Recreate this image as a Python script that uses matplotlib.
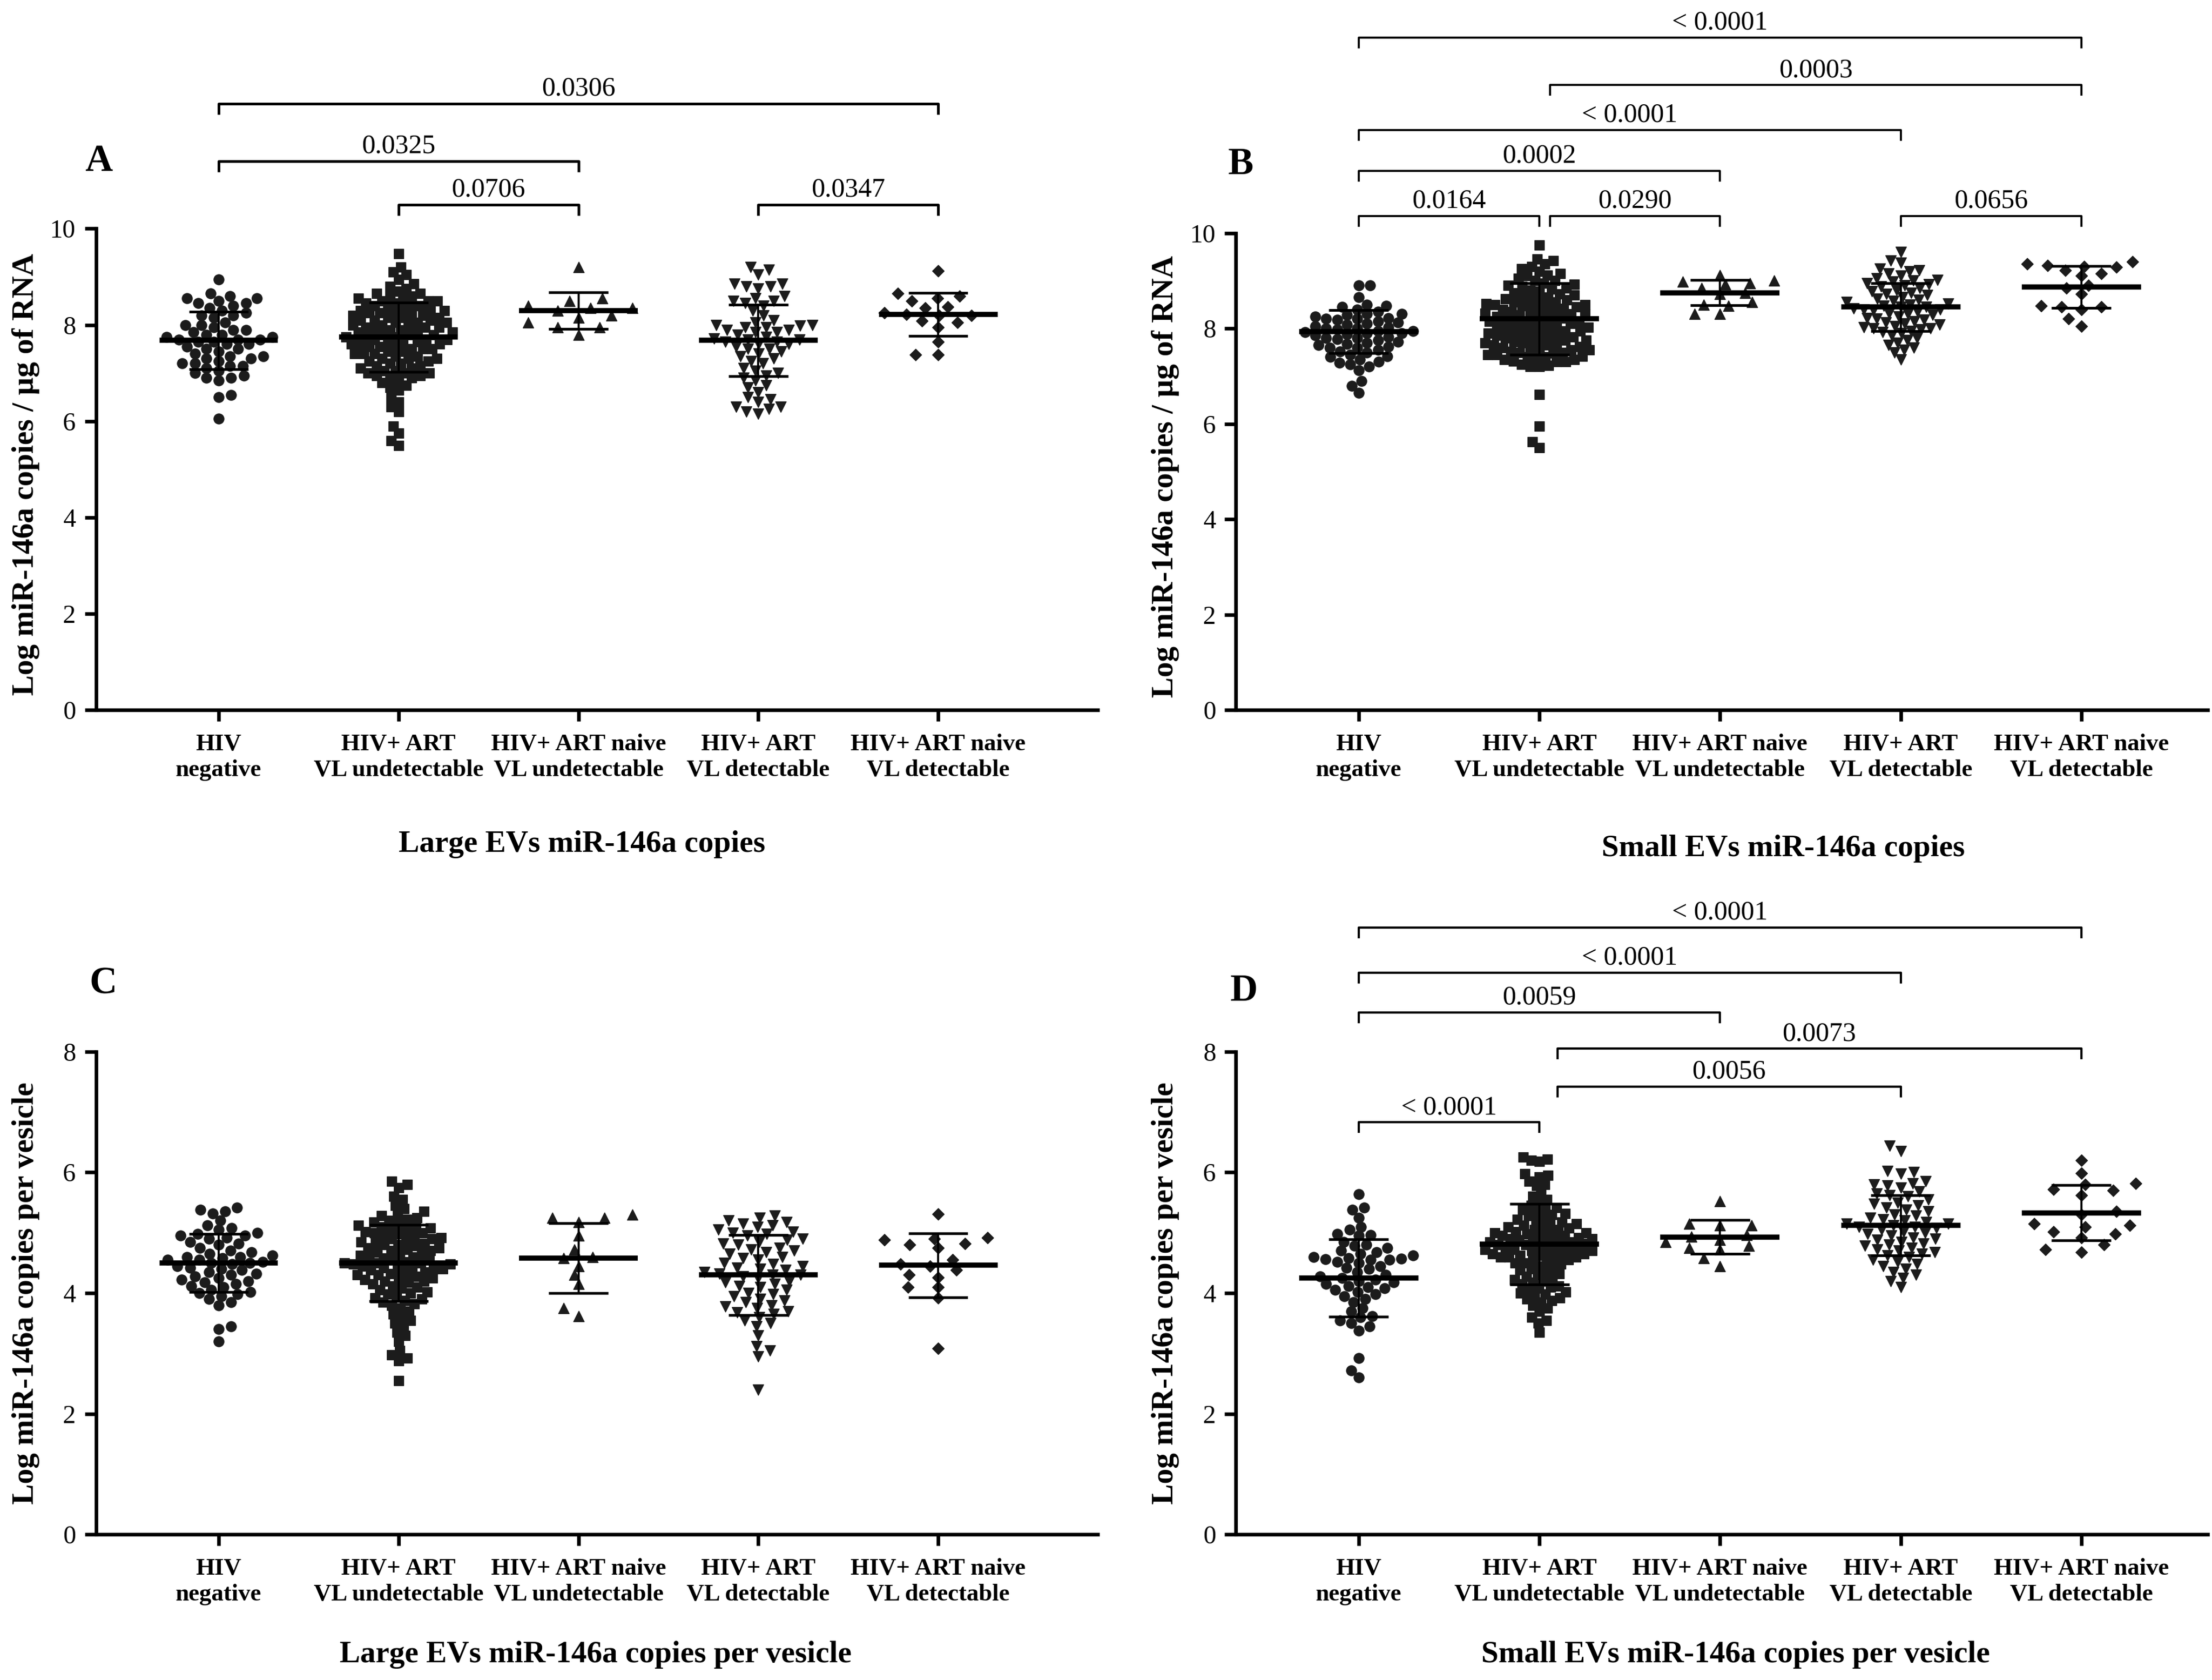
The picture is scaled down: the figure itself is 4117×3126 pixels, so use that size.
import matplotlib
matplotlib.use('Agg')
import matplotlib.pyplot as plt
import numpy as np

plt.rcParams['font.family'] = ['Liberation Serif', 'DejaVu Serif']

# category labels (same in all four panels)
groups = ["HIV\nnegative", "HIV+ ART\nVL undetectable", "HIV+ ART naive\nVL undetectable",
          "HIV+ ART\nVL detectable", "HIV+ ART naive\nVL detectable"]
markers = ['o', 's', '^', 'v', 'D']
marker_sizes = [4.6, 4.3, 5.0, 5.0, 3.8]

# ---- panel A: large EVs, copies / ug RNA
A_neg = [8.95, 8.65, 8.6, 8.55, 8.55, 8.5, 8.45, 8.45, 8.4, 8.35, 8.3, 8.25, 8.2, 8.2, 8.15, 8.05, 8.0,
         8.0, 7.95, 7.9, 7.9, 7.85, 7.8, 7.8, 7.75, 7.75, 7.7, 7.7, 7.7, 7.65, 7.65, 7.6, 7.6, 7.55, 7.5,
         7.5, 7.45, 7.4, 7.35, 7.35, 7.3, 7.3, 7.25, 7.2, 7.2, 7.15, 7.15, 7.1, 7.05, 7.0, 6.95, 6.9,
         6.9, 6.85, 6.55, 6.5, 6.05]
A_art = [9.48, 9.2, 9.1, 9.05, 8.95, 8.85, 8.8, 8.75, 8.7, 8.65, 8.65, 8.6, 8.6, 8.55, 8.55, 8.5, 8.5,
         8.5, 8.45, 8.45, 8.4, 8.4, 8.4, 8.35, 8.35, 8.3, 8.3, 8.3, 8.25, 8.25, 8.25, 8.2, 8.2, 8.2,
         8.15, 8.15, 8.15, 8.1, 8.1, 8.1, 8.05, 8.05, 8.05, 8.0, 8.0, 8.0, 7.95, 7.95, 7.95, 7.9, 7.9,
         7.9, 7.85, 7.85, 7.85, 7.8, 7.8, 7.8, 7.75, 7.75, 7.75, 7.7, 7.7, 7.7, 7.65, 7.65, 7.65, 7.6,
         7.6, 7.6, 7.55, 7.55, 7.55, 7.5, 7.5, 7.5, 7.45, 7.45, 7.4, 7.4, 7.4, 7.35, 7.35, 7.3, 7.3,
         7.3, 7.25, 7.25, 7.2, 7.2, 7.15, 7.15, 7.1, 7.1, 7.05, 7.05, 7.0, 7.0, 7.0, 6.95, 6.95, 6.9,
         6.9, 6.85, 6.8, 6.75, 6.7, 6.65, 6.5, 6.4, 6.3, 6.2, 5.9, 5.75, 5.6, 5.5]
A_nu = [9.2, 8.55, 8.5, 8.4, 8.35, 8.35, 8.3, 8.2, 8.15, 8.05, 7.95, 7.95, 7.8]
A_det = [9.2, 9.15, 9.05, 8.85, 8.85, 8.8, 8.8, 8.75, 8.6, 8.55, 8.5, 8.5, 8.45, 8.4, 8.3, 8.2, 8.1,
         8.05, 8.0, 8.0, 7.98, 7.95, 7.95, 7.9, 7.9, 7.85, 7.85, 7.8, 7.75, 7.72, 7.7, 7.7, 7.65, 7.65,
         7.6, 7.6, 7.55, 7.5, 7.5, 7.45, 7.4, 7.35, 7.3, 7.25, 7.2, 7.1, 7.05, 7.0, 6.95, 6.9, 6.85,
         6.75, 6.7, 6.6, 6.5, 6.45, 6.4, 6.3, 6.3, 6.25, 6.2, 6.15]
A_nd = [9.12, 8.65, 8.6, 8.55, 8.5, 8.38, 8.35, 8.25, 8.22, 8.2, 8.2, 8.08, 8.05, 7.95, 7.65, 7.38, 7.38]
A_mean = [7.68, 7.75, 8.3, 7.68, 8.22]
A_sd = [0.6, 0.72, 0.38, 0.74, 0.45]

# ---- panel B: small EVs, copies / ug RNA
B_neg = [8.9, 8.9, 8.65, 8.5, 8.48, 8.45, 8.4, 8.35, 8.3, 8.3, 8.28, 8.25, 8.22, 8.2, 8.2, 8.18, 8.15,
         8.12, 8.1, 8.08, 8.05, 8.02, 8.0, 8.0, 7.98, 7.95, 7.95, 7.92, 7.9, 7.9, 7.88, 7.85, 7.82, 7.8,
         7.8, 7.78, 7.75, 7.72, 7.7, 7.68, 7.65, 7.62, 7.6, 7.6, 7.55, 7.52, 7.5, 7.45, 7.42, 7.4, 7.35,
         7.3, 7.28, 7.25, 7.2, 7.12, 6.9, 6.8, 6.65]
B_art = [9.75, 9.45, 9.42, 9.35, 9.3, 9.25, 9.2, 9.15, 9.12, 9.1, 9.05, 9.0, 9.0, 8.95, 8.92, 8.9, 8.88,
         8.85, 8.82, 8.8, 8.78, 8.75, 8.72, 8.7, 8.68, 8.65, 8.62, 8.6, 8.6, 8.58, 8.55, 8.55, 8.52, 8.5,
         8.5, 8.48, 8.45, 8.45, 8.42, 8.4, 8.4, 8.38, 8.35, 8.35, 8.32, 8.3, 8.3, 8.28, 8.25, 8.25, 8.22,
         8.2, 8.2, 8.18, 8.15, 8.15, 8.12, 8.1, 8.1, 8.08, 8.05, 8.05, 8.02, 8.0, 8.0, 7.98, 7.95, 7.95,
         7.92, 7.9, 7.9, 7.88, 7.85, 7.85, 7.82, 7.8, 7.8, 7.78, 7.75, 7.75, 7.72, 7.7, 7.7, 7.68, 7.65,
         7.65, 7.62, 7.6, 7.6, 7.58, 7.55, 7.55, 7.52, 7.5, 7.5, 7.48, 7.45, 7.45, 7.42, 7.4, 7.4, 7.38,
         7.35, 7.35, 7.32, 7.3, 7.3, 7.25, 7.22, 7.2, 7.2, 6.62, 5.95, 5.62, 5.5]
B_nu = [9.12, 9.0, 8.98, 8.95, 8.92, 8.85, 8.75, 8.72, 8.55, 8.5, 8.48, 8.3, 8.3]
B_det = [9.6, 9.42, 9.38, 9.25, 9.22, 9.2, 9.15, 9.1, 9.05, 9.02, 9.0, 8.98, 8.95, 8.92, 8.9, 8.88,
         8.85, 8.8, 8.78, 8.75, 8.72, 8.7, 8.65, 8.62, 8.6, 8.58, 8.55, 8.52, 8.5, 8.48, 8.45, 8.45,
         8.42, 8.4, 8.4, 8.38, 8.35, 8.32, 8.3, 8.28, 8.25, 8.22, 8.2, 8.18, 8.15, 8.12, 8.1, 8.08, 8.05,
         8.02, 8.0, 8.0, 7.98, 7.95, 7.92, 7.9, 7.85, 7.8, 7.75, 7.7, 7.65, 7.6, 7.55, 7.5, 7.35]
B_nd = [9.4, 9.35, 9.32, 9.3, 9.28, 9.22, 9.15, 9.1, 8.9, 8.85, 8.72, 8.48, 8.45, 8.45, 8.4, 8.2, 8.05]
B_mean = [7.93, 8.2, 8.75, 8.45, 8.87]
B_sd = [0.45, 0.75, 0.26, 0.5, 0.44]

# ---- panel C: large EVs, copies per vesicle
C_neg = [5.42, 5.38, 5.35, 5.32, 5.2, 5.12, 5.08, 5.05, 5.0, 4.98, 4.95, 4.95, 4.92, 4.9, 4.85, 4.82,
         4.8, 4.75, 4.7, 4.68, 4.65, 4.62, 4.6, 4.6, 4.58, 4.55, 4.55, 4.52, 4.5, 4.5, 4.48, 4.45, 4.42,
         4.4, 4.38, 4.35, 4.32, 4.3, 4.28, 4.25, 4.22, 4.2, 4.18, 4.15, 4.12, 4.1, 4.05, 4.02, 4.0, 3.98,
         3.95, 3.9, 3.85, 3.8, 3.45, 3.4, 3.2]
C_art = [5.85, 5.8, 5.75, 5.6, 5.55, 5.45, 5.4, 5.35, 5.3, 5.28, 5.25, 5.22, 5.2, 5.18, 5.15, 5.12, 5.1,
         5.1, 5.08, 5.05, 5.05, 5.02, 5.0, 5.0, 4.98, 4.95, 4.95, 4.92, 4.9, 4.9, 4.88, 4.85, 4.85, 4.82,
         4.8, 4.8, 4.78, 4.75, 4.75, 4.72, 4.7, 4.7, 4.68, 4.65, 4.65, 4.62, 4.6, 4.6, 4.58, 4.55, 4.55,
         4.52, 4.5, 4.5, 4.5, 4.48, 4.48, 4.45, 4.45, 4.42, 4.42, 4.4, 4.4, 4.38, 4.35, 4.35, 4.32, 4.3,
         4.3, 4.28, 4.25, 4.25, 4.22, 4.2, 4.2, 4.18, 4.15, 4.12, 4.1, 4.08, 4.05, 4.02, 4.0, 3.98, 3.95,
         3.92, 3.9, 3.88, 3.85, 3.82, 3.8, 3.75, 3.7, 3.65, 3.6, 3.55, 3.5, 3.45, 3.35, 3.3, 3.2, 3.05,
         2.98, 2.92, 2.88, 2.55]
C_nu = [5.3, 5.25, 5.25, 5.18, 4.95, 4.72, 4.6, 4.58, 4.45, 4.3, 4.15, 3.75, 3.62]
C_det = [5.28, 5.25, 5.2, 5.18, 5.15, 5.12, 5.1, 5.05, 5.02, 5.0, 4.98, 4.95, 4.9, 4.88, 4.85, 4.82,
         4.8, 4.75, 4.72, 4.7, 4.68, 4.65, 4.6, 4.58, 4.55, 4.5, 4.48, 4.45, 4.42, 4.4, 4.38, 4.35, 4.32,
         4.3, 4.3, 4.28, 4.25, 4.2, 4.18, 4.15, 4.12, 4.1, 4.05, 4.0, 3.98, 3.95, 3.9, 3.88, 3.85, 3.8,
         3.78, 3.75, 3.7, 3.68, 3.65, 3.6, 3.55, 3.5, 3.45, 3.3, 3.12, 3.05, 2.95, 2.4]
C_nd = [5.31, 4.92, 4.9, 4.88, 4.82, 4.8, 4.75, 4.55, 4.48, 4.45, 4.38, 4.3, 4.26, 4.1, 4.1, 3.92, 3.08]
C_mean = [4.5, 4.5, 4.58, 4.3, 4.46]
C_sd = [0.48, 0.63, 0.58, 0.66, 0.53]

# ---- panel D: small EVs, copies per vesicle
D_neg = [5.64, 5.42, 5.38, 5.25, 5.1, 5.05, 4.98, 4.96, 4.95, 4.85, 4.8, 4.78, 4.75, 4.7, 4.68, 4.65,
         4.62, 4.6, 4.58, 4.57, 4.56, 4.55, 4.55, 4.52, 4.5, 4.45, 4.42, 4.4, 4.35, 4.3, 4.28, 4.25,
         4.22, 4.2, 4.18, 4.15, 4.12, 4.1, 4.08, 4.05, 4.02, 3.98, 3.95, 3.9, 3.85, 3.75, 3.7, 3.62, 3.6,
         3.55, 3.5, 3.45, 3.38, 2.92, 2.72, 2.6]
D_art = [6.25, 6.22, 6.2, 6.18, 5.98, 5.95, 5.92, 5.85, 5.8, 5.78, 5.65, 5.6, 5.55, 5.5, 5.45, 5.42,
         5.4, 5.38, 5.35, 5.32, 5.3, 5.28, 5.25, 5.22, 5.2, 5.18, 5.15, 5.15, 5.12, 5.1, 5.1, 5.08, 5.05,
         5.05, 5.02, 5.0, 5.0, 5.0, 4.98, 4.95, 4.95, 4.95, 4.92, 4.9, 4.9, 4.9, 4.88, 4.88, 4.85, 4.85,
         4.85, 4.82, 4.8, 4.8, 4.8, 4.78, 4.75, 4.75, 4.75, 4.72, 4.72, 4.7, 4.7, 4.7, 4.68, 4.65, 4.65,
         4.65, 4.62, 4.62, 4.6, 4.6, 4.6, 4.58, 4.55, 4.55, 4.52, 4.5, 4.5, 4.48, 4.45, 4.42, 4.4, 4.38,
         4.35, 4.32, 4.3, 4.28, 4.25, 4.22, 4.2, 4.18, 4.15, 4.12, 4.1, 4.08, 4.05, 4.02, 4.0, 3.98,
         3.95, 3.92, 3.9, 3.88, 3.85, 3.8, 3.75, 3.7, 3.6, 3.55, 3.5, 3.35]
D_nu = [5.52, 5.15, 5.12, 5.12, 4.96, 4.94, 4.88, 4.85, 4.78, 4.75, 4.72, 4.58, 4.45]
D_det = [6.44, 6.35, 6.02, 6.0, 5.98, 5.85, 5.82, 5.8, 5.78, 5.75, 5.68, 5.65, 5.62, 5.6, 5.55, 5.5,
         5.48, 5.45, 5.42, 5.38, 5.35, 5.3, 5.28, 5.25, 5.22, 5.2, 5.18, 5.15, 5.15, 5.12, 5.1, 5.1,
         5.08, 5.05, 5.02, 5.0, 4.98, 4.95, 4.92, 4.9, 4.88, 4.85, 4.82, 4.8, 4.78, 4.75, 4.72, 4.7,
         4.68, 4.65, 4.62, 4.6, 4.55, 4.52, 4.48, 4.45, 4.4, 4.35, 4.3, 4.25, 4.2, 4.1]
D_nd = [6.2, 5.99, 5.82, 5.8, 5.72, 5.7, 5.62, 5.35, 5.3, 5.15, 5.12, 5.1, 5.02, 4.98, 4.92, 4.8, 4.72,
        4.68]
D_mean = [4.25, 4.81, 4.93, 5.12, 5.33]
D_sd = [0.64, 0.67, 0.28, 0.5, 0.46]

# significance brackets: (group from, group to, height, label)
A_brackets = [(0, 4, 12.6, '0.0306'), (0, 2, 11.4, '0.0325'), (1, 2, 10.5, '0.0706'),
              (3, 4, 10.5, '0.0347')]
B_brackets = [(0, 4, 14.1, '< 0.0001'), (1, 4, 13.1, '0.0003'), (0, 3, 12.16, '< 0.0001'),
              (0, 2, 11.3, '0.0002'), (0, 1, 10.36, '0.0164'), (1, 2, 10.36, '0.0290'),
              (3, 4, 10.36, '0.0656')]
C_brackets = []
D_brackets = [(0, 4, 10.06, '< 0.0001'), (0, 3, 9.31, '< 0.0001'), (0, 2, 8.65, '0.0059'),
              (1, 4, 8.05, '0.0073'), (1, 3, 7.42, '0.0056'), (0, 1, 6.83, '< 0.0001')]

W, H = 4117, 3126
fig = plt.figure(figsize=(W / 300, H / 300), dpi=300)


def swarm(vals, ppy, dxp, dyp):
    # beeswarm with an elliptical footprint (wide rows like a column scatter), result in pixels
    vals = np.asarray(vals, dtype=float)
    order = np.argsort(vals, kind='stable')
    ys = vals * ppy
    xs = np.zeros(len(vals))
    px_l, py_l = [], []
    flip = 1
    for i in order:
        y = ys[i]
        near = [(a, b) for a, b in zip(px_l, py_l) if abs(b - y) < dyp]
        cands = [0.0]
        for a, b in near:
            dx = dxp * np.sqrt(1 - ((b - y) / dyp) ** 2)
            cands += [a + dx, a - dx]
        cands.sort(key=lambda c: (round(abs(c), 6), -flip * c))
        for c in cands:
            if all(((c - a) / dxp) ** 2 + ((y - b) / dyp) ** 2 >= 1 - 1e-6 for a, b in near):
                break
        xs[i] = c
        flip = -flip
        px_l.append(c)
        py_l.append(y)
    return xs


def draw_panel(rect, data, means, sds, ymax, brackets, letter, letter_pos, ylabel, ylab_xy,
               title, title_xy, xlim, nudge, blw):
    ax = fig.add_axes(rect)
    ax.set_xlim(*xlim)
    ax.set_ylim(0, ymax)
    ppx = rect[2] * W / (xlim[1] - xlim[0])
    ppy = rect[3] * H / ymax
    for i, vals in enumerate(data):
        dx = swarm(vals, ppy, 20.0, 17.0) / ppx
        span = np.abs(dx).max()
        if span > 0:
            dx = dx * min(0.30 / span, 3.5)
        ax.plot(i + dx, vals, linestyle='none', marker=markers[i], ms=marker_sizes[i],
                color='#1c1c1c', mec='#1c1c1c', mew=0.3, zorder=2)
        m, s = means[i], sds[i]
        ax.hlines(m, i - 0.33, i + 0.33, color='k', lw=2.3, zorder=3)
        ax.vlines(i, m - s, m + s, color='k', lw=0.9, zorder=3)
        ax.hlines([m - s, m + s], i - 0.165, i + 0.165, color='k', lw=1.2, zorder=3)

    drop = 20.0 / ppy
    for g0, g1, y, lab in brackets:
        x0 = g0 + (nudge if g0 == 1 else 0)
        x1 = g1
        ax.plot([x0, x0, x1, x1], [y - drop, y, y, y - drop], color='k', lw=blw,
                clip_on=False, solid_capstyle='butt')
        ax.annotate(lab, xy=((x0 + x1) / 2, y), xytext=(0, 1.0), textcoords='offset points',
                    ha='center', va='bottom', fontsize=12, annotation_clip=False)

    ax.spines[['top', 'right']].set_visible(False)
    ax.spines[['left', 'bottom']].set_linewidth(1.6)
    ax.set_xticks(range(len(groups)))
    ax.set_xticklabels(groups, fontweight='bold', fontsize=10.8, linespacing=1.25)
    ax.set_yticks(np.arange(0, ymax + 0.1, 2))
    ax.tick_params(axis='x', length=5, width=1.6, pad=5.5)
    ax.tick_params(axis='y', length=5, width=1.6, pad=4, labelsize=11.5)
    ax.text(ylab_xy[0], ylab_xy[1], ylabel, rotation=90, ha='center', va='center',
            transform=ax.transAxes, fontsize=13.8, fontweight='bold')
    ax.text(title_xy[0], title_xy[1], title, ha='center', va='center',
            transform=ax.transAxes, fontsize=13.8, fontweight='bold')
    fig.text(letter_pos[0], letter_pos[1], letter, fontsize=17, fontweight='bold',
             ha='center', va='center')
    return ax


ylab_rna = 'Log miR-146a copies / µg of RNA'
ylab_ves = 'Log miR-146a copies per vesicle'

draw_panel([0.0434, 0.5773, 0.4528, 0.2866], [A_neg, A_art, A_nu, A_det, A_nd], A_mean, A_sd,
           10, A_brackets, 'A', (0.0446, 0.904), ylab_rna, (-0.070, 0.49),
           'Large EVs miR-146a copies', (0.485, -0.279), (-0.682, 4.886), 0.0, 1.2)
draw_panel([0.5587, 0.5773, 0.4394, 0.2840], [B_neg, B_art, B_nu, B_det, B_nd], B_mean, B_sd,
           10, B_brackets, 'B', (0.561, 0.902), ylab_rna, (-0.0726, 0.49),
           'Small EVs miR-146a copies', (0.563, -0.29), (-0.68, 4.70), 0.06, 0.9)
draw_panel([0.0434, 0.0866, 0.4528, 0.2874], [C_neg, C_art, C_nu, C_det, C_nd], C_mean, C_sd,
           8, C_brackets, 'C', (0.0466, 0.4143), ylab_ves, (-0.070, 0.5),
           'Large EVs miR-146a copies per vesicle', (0.4986, -0.249), (-0.682, 4.886), 0.0, 1.0)
draw_panel([0.5587, 0.0866, 0.4394, 0.2874], [D_neg, D_art, D_nu, D_det, D_nd], D_mean, D_sd,
           8, D_brackets, 'D', (0.5625, 0.410), ylab_ves, (-0.0726, 0.5),
           'Small EVs miR-146a copies per vesicle', (0.514, -0.249), (-0.68, 4.70), 0.10, 1.0)

fig.savefig('out.png', dpi=300)
